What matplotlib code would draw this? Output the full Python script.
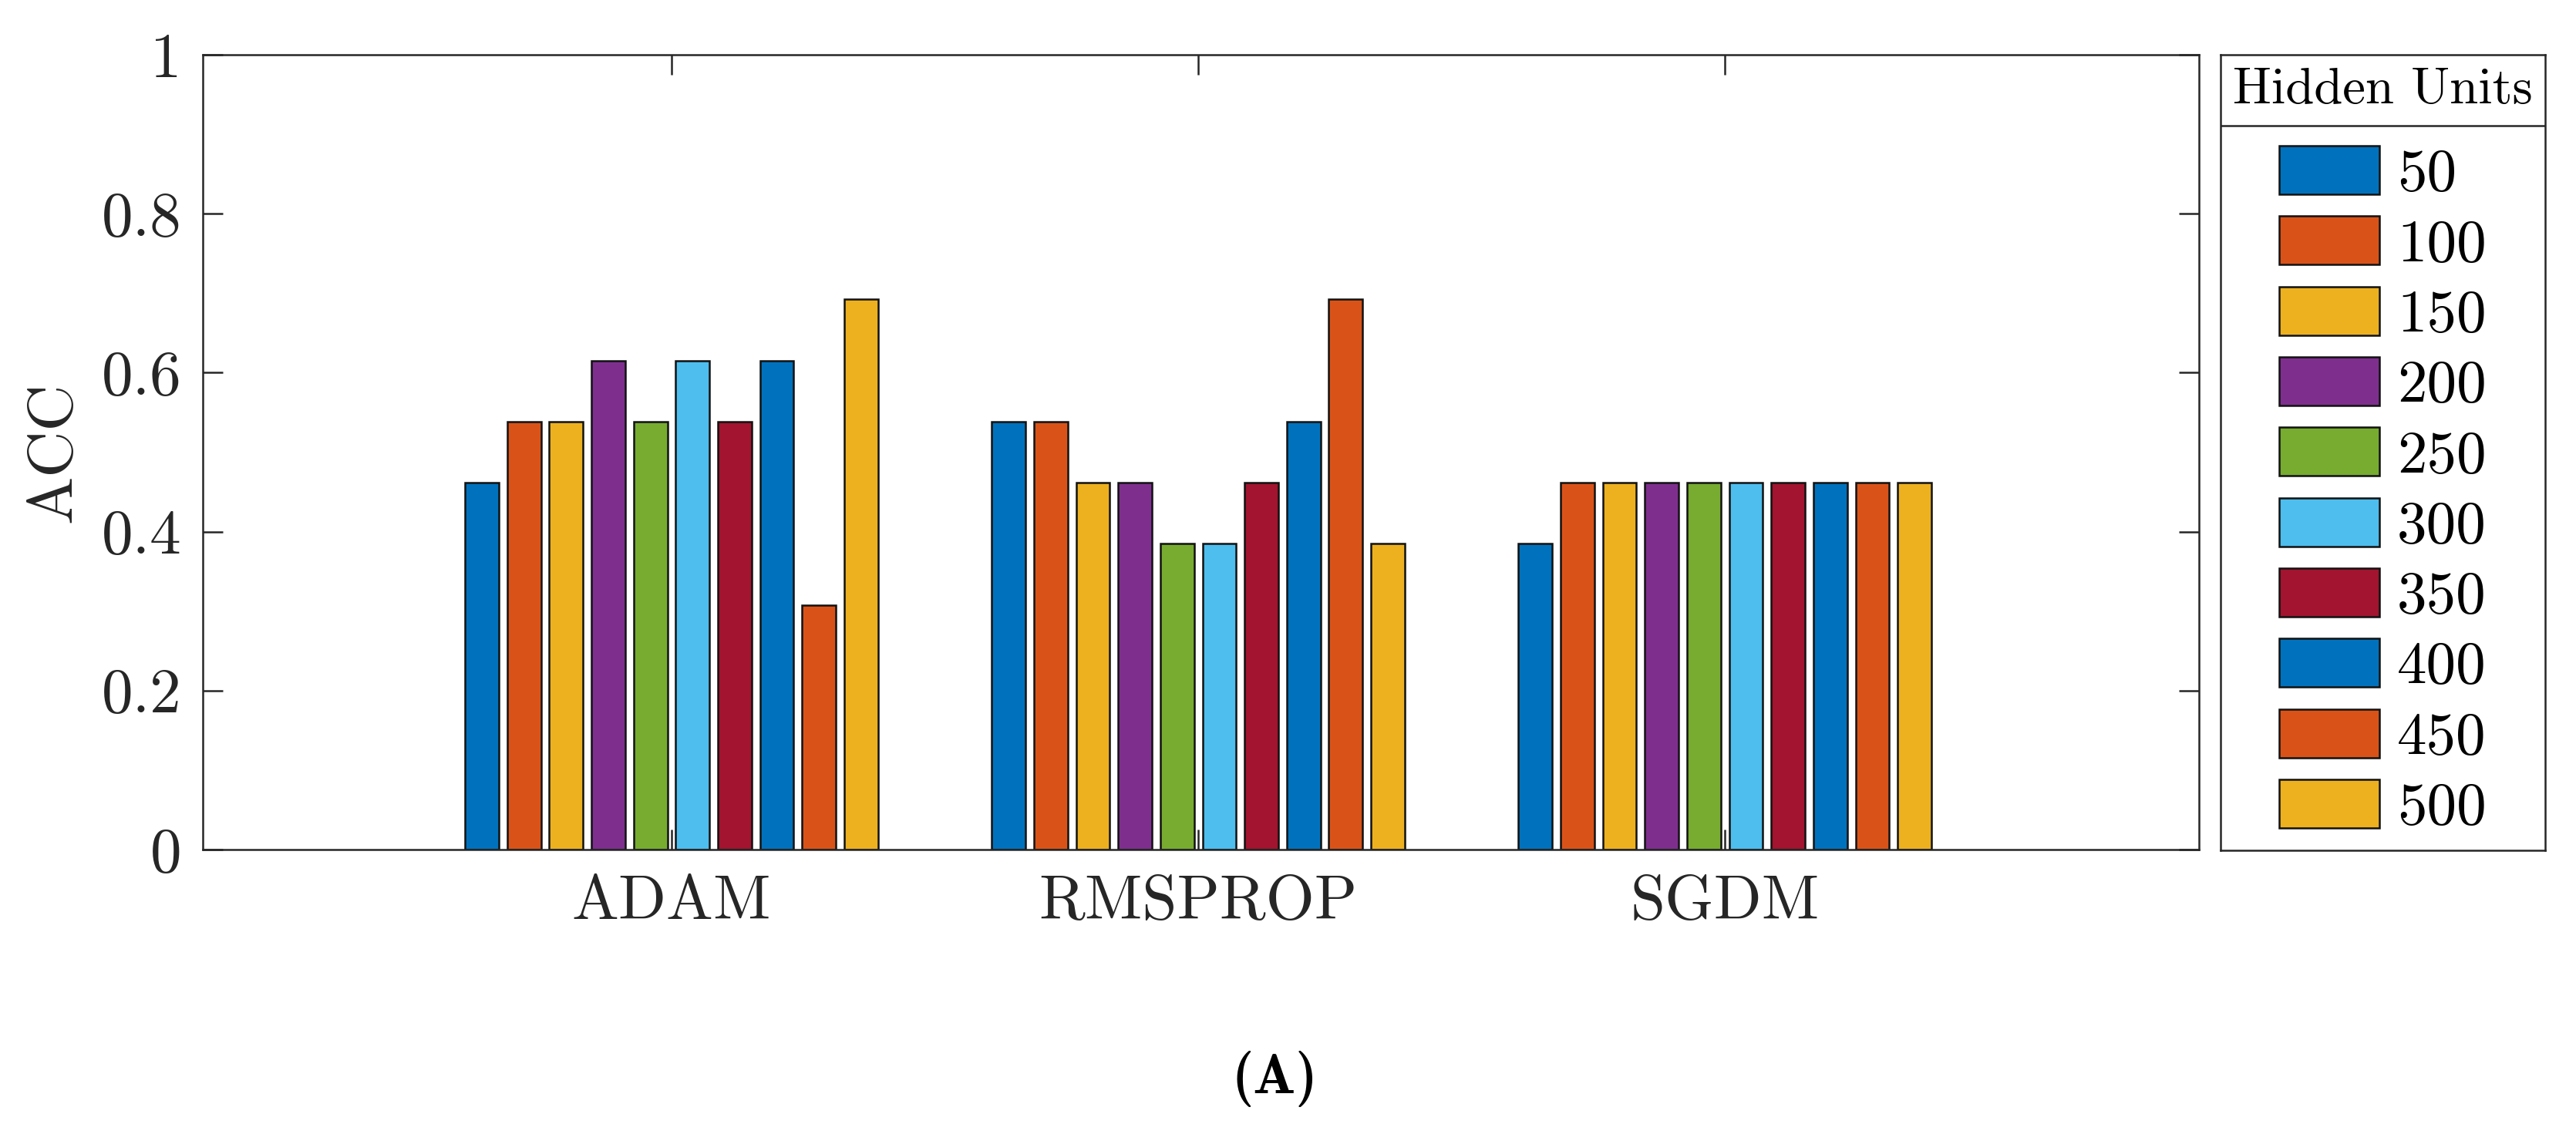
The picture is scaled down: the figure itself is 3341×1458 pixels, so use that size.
import numpy as np
import matplotlib
matplotlib.use("Agg")
import matplotlib.pyplot as plt
from matplotlib.ticker import FuncFormatter

# === Data
optimizers = ["ADAM", "RMSPROP", "SGDM"]
hidden_units = ["50", "100", "150", "200", "250", "300", "350", "400", "450", "500"]

# ACC per optimizer, one value per hidden-unit setting
acc_adam = [0.4615, 0.5385, 0.5385, 0.6154, 0.5385, 0.6154, 0.5385, 0.6154, 0.3077, 0.6923]
acc_rmsprop = [0.5385, 0.5385, 0.4615, 0.4615, 0.3846, 0.3846, 0.4615, 0.5385, 0.6923, 0.3846]
acc_sgdm = [0.3846, 0.4615, 0.4615, 0.4615, 0.4615, 0.4615, 0.4615, 0.4615, 0.4615, 0.4615]

yticks = [0, 0.2, 0.4, 0.6, 0.8, 1]

# MATLAB default colour order (repeats after 7)
colors = ["#0072BD", "#D95319", "#EDB120", "#7E2F8E", "#77AC30",
          "#4DBEEE", "#A2142F", "#0072BD", "#D95319", "#EDB120"]

# === Style
plt.rcParams["font.family"] = ["cmr10", "DejaVu Serif"]
plt.rcParams["axes.formatter.use_mathtext"] = True
axis_col = "#262626"

W, H, DPI = 3341, 1458, 300
fig = plt.figure(figsize=(W / DPI, H / DPI), dpi=DPI)

# axes box in pixel coords of the reference
ax_l, ax_r, ax_t, ax_b = 263, 2852, 71, 1102
ax = fig.add_axes([ax_l / W, 1 - ax_b / H, (ax_r - ax_l) / W, (ax_b - ax_t) / H])

data = np.array([acc_adam, acc_rmsprop, acc_sgdm])
x = np.arange(1, len(optimizers) + 1)
n = len(hidden_units)
pitch = 0.8 / n
bar_w = pitch * 0.8

handles = []
for i in range(n):
    b = ax.bar(x + (i - (n - 1) / 2) * pitch, data[:, i], width=bar_w,
               color=colors[i], edgecolor="#111111", linewidth=0.6, zorder=2)
    handles.append(b)

ax.set_xlim(0.11, 3.9)
ax.set_ylim(0, 1)
ax.set_xticks(x)
ax.set_xticklabels(optimizers)
ax.set_yticks(yticks)
ax.yaxis.set_major_formatter(FuncFormatter(lambda v, p: "%g" % v))
ax.tick_params(direction="in", length=6.2, width=0.6, color=axis_col,
               top=True, right=True, labelsize=19.5, labelcolor=axis_col)
ax.tick_params(axis="y", pad=6.5)
ax.tick_params(axis="x", pad=7.8)
for s in ax.spines.values():
    s.set_color(axis_col)
    s.set_linewidth(0.6)
ax.set_ylabel("ACC", fontsize=20, color=axis_col)
ax.yaxis.set_label_coords(-0.06, 0.5)

# === Legend box with title row
lg_l, lg_r, lg_t, lg_b = 2880, 3301, 71, 1103
lax = fig.add_axes([lg_l / W, 1 - lg_b / H, (lg_r - lg_l) / W, (lg_b - lg_t) / H])
lax.set_xticks([])
lax.set_yticks([])
for s in lax.spines.values():
    s.set_color(axis_col)
    s.set_linewidth(0.6)
sep = 1 - (163 - lg_t) / (lg_b - lg_t)
lax.axhline(sep, color=axis_col, linewidth=0.6)
lax.text(0.5, (1 + sep) / 2, "Hidden Units", ha="center", va="center",
         fontsize=16, transform=lax.transAxes)
lax.legend(handles, hidden_units, loc="upper center", bbox_to_anchor=(0.5, sep + 0.012),
           frameon=False, fontsize=18.5, handlelength=1.68, handleheight=0.88,
           labelspacing=0.236, handletextpad=0.3, borderpad=0)

fig.text(1653 / W, 1 - 1400 / H, "(A)", ha="center", va="center",
         fontsize=17.5, family=["cmb10", "DejaVu Serif"])

fig.savefig("out.png", dpi=DPI, facecolor="white")
